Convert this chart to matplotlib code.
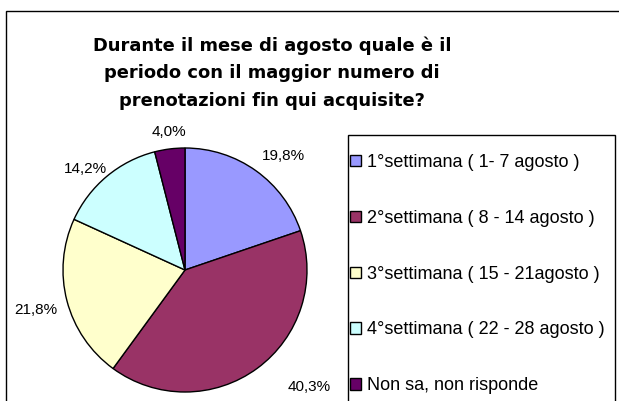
import numpy as np
import matplotlib.pyplot as plt
from matplotlib.patches import Rectangle, Patch

# data
labels = ['1°settimana ( 1- 7 agosto )',
          '2°settimana ( 8 - 14 agosto )',
          '3°settimana ( 15 - 21agosto )',
          '4°settimana ( 22 - 28 agosto )',
          'Non sa, non risponde']
values = [19.8, 40.3, 21.8, 14.2, 4.0]
colors = ['#9999FF', '#993366', '#FFFFCC', '#CCFFFF', '#660066']
title = 'Durante il mese di agosto quale è il\nperiodo con il maggior numero di\nprenotazioni fin qui acquisite?'

W, H = 619, 401
fig = plt.figure(figsize=(W / 100, H / 100), dpi=100)

# outer chart border (runs off the right and bottom)
fig.patches.append(Rectangle((6 / W, -0.1), 1.2, 1 - 11 / H + 0.1, transform=fig.transFigure,
                             fill=False, ec='black', lw=1.0))

fig.text(272 / W, 1 - 73 / H, title, ha='center', va='center', fontsize=12.9,
         fontweight='bold', family='DejaVu Sans', linespacing=1.68)

# pie
cx, cy, r = 185, 270, 122
ax = fig.add_axes([(cx - r) / W, (H - cy - r) / H, 2 * r / W, 2 * r / H])
wedges, _ = ax.pie(values, colors=colors, startangle=90, counterclock=False,
                   wedgeprops=dict(edgecolor='black', linewidth=1.0))
ax.set_xlim(-1, 1)
ax.set_ylim(-1, 1)
ax.set_aspect('equal')
ax.axis('off')

# label distance from centre, in pie radii
lab_r = [1.08, 1.12, 1.08, 1.0, 1.08]
for w, v, d in zip(wedges, values, lab_r):
    ang = np.deg2rad((w.theta1 + w.theta2) / 2)
    c, s = np.cos(ang), np.sin(ang)
    x, y = d * c, d * s
    ha = 'left' if c > 0.15 else ('right' if c < -0.15 else 'center')
    va = 'bottom' if s > 0.15 else ('top' if s < -0.15 else 'center')
    if v == values[1]:
        x += 0.18
    ax.text(x, y, ('%.1f%%' % v).replace('.', ','), ha=ha, va=va,
            fontsize=11, family='Liberation Sans', clip_on=False)

# legend box
fig.patches.append(Rectangle((348 / W, -0.1), (615 - 348) / W, 1 - 135 / H + 0.1,
                             transform=fig.transFigure, fill=False, ec='black', lw=1.0))
handles = [Patch(facecolor=c, edgecolor='black', linewidth=1.0) for c in colors]
fig.legend(handles, labels, loc='upper left', bbox_to_anchor=(350 / W, 1 - 154 / H),
           frameon=False, handlelength=0.6, handleheight=0.6, handletextpad=0.35,
           labelspacing=2.15, prop={'family': 'Liberation Sans', 'size': 13},
           borderpad=0, borderaxespad=0)

fig.savefig('out.png', dpi=100)
